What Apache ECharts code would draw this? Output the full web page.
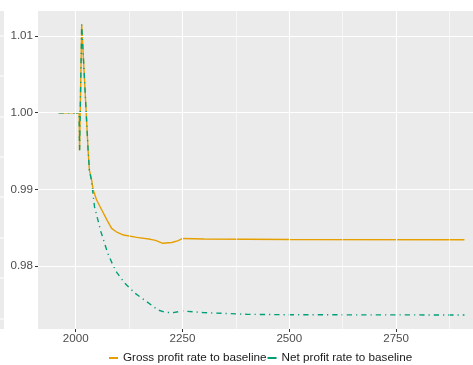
<!DOCTYPE html>
<html>
<head>
<meta charset="utf-8">
<script src="https://cdn.jsdelivr.net/npm/echarts@6/dist/echarts.min.js"></script>
<style>
html,body{margin:0;padding:0;background:#fff;}
#chart{width:473px;height:365px;}
</style>
</head>
<body>
<div id="chart"></div>
<script>
// ---- data ----
var grossYears  = [1960, 2008, 2009, 2014, 2029, 2032, 2037, 2041, 2049, 2061, 2073, 2084, 2095, 2112, 2143, 2175, 2187, 2204, 2225, 2240, 2250, 2300, 2500, 2910];
var grossValues = [1.0000, 1.0000, 0.9951, 1.0115, 0.9951, 0.9925, 0.9913, 0.9899, 0.9886, 0.9873, 0.9860, 0.9849, 0.98445, 0.98403, 0.98373, 0.98347, 0.98333, 0.98295, 0.98305, 0.98330, 0.98358, 0.98352, 0.98345, 0.98342];

var netYears  = [1960, 2008, 2009, 2014, 2029, 2032, 2037, 2044, 2059, 2075, 2087, 2096, 2115, 2139, 2166, 2193, 2209, 2228, 2240, 2250, 2300, 2400, 2500, 2910];
var netValues = [1.0000, 1.0000, 0.9951, 1.0115, 0.9951, 0.9925, 0.9911, 0.9877, 0.98446, 0.98164, 0.98012, 0.97915, 0.97773, 0.97642, 0.97533, 0.97424, 0.97394, 0.97389, 0.97402, 0.97411, 0.97390, 0.97368, 0.97362, 0.97359];

var seriesNames = ['Gross profit rate to baseline', 'Net profit rate to baseline'];

var xTicks = [2000, 2250, 2500, 2750];
var xMinor = [2125, 2375, 2625, 2875];
var yTicks = [0.98, 0.99, 1.00, 1.01];
var yMinor = [0.975, 0.985, 0.995, 1.005];

var xRange = [1911.7, 2930];
var yRange = [0.97176, 1.01328];

function pairs(xs, ys){ return xs.map(function(x,i){ return [x, ys[i]]; }); }

var gridLines = [];
xMinor.forEach(function(v){ gridLines.push({xAxis: v, lineStyle:{width:0.6}}); });
yMinor.forEach(function(v){ gridLines.push({yAxis: v, lineStyle:{width:0.6}}); });
xTicks.forEach(function(v){ gridLines.push({xAxis: v, lineStyle:{width:1.1}}); });
yTicks.forEach(function(v){ gridLines.push({yAxis: v, lineStyle:{width:1.1}}); });

// decorative sliver of neighbouring panel at the very left
var sliver = [{type:'rect', shape:{x:0,y:11,width:4,height:318}, style:{fill:'#EBEBEB'}, silent:true}];
[36, 76, 117, 157, 197, 238, 278, 319].forEach(function(y){
  sliver.push({type:'line', shape:{x1:0,y1:y,x2:4,y2:y}, style:{stroke:'#fff', lineWidth:1}, silent:true});
});

var font = 'Liberation Sans, Arial, Helvetica, sans-serif';

var chart = echarts.init(document.getElementById('chart'), null, {renderer:'canvas'});
chart.setOption({
  animation: false,
  backgroundColor: '#fff',
  textStyle: {fontFamily: font},
  graphic: sliver,
  grid: {left:38, right:0, top:11, bottom:36, show:true, backgroundColor:'#EBEBEB', borderWidth:0},
  xAxis: {
    type:'value', min:xRange[0], max:xRange[1],
    axisLine:{show:false},
    splitLine:{show:false},
    axisTick:{show:true, customValues:xTicks, length:3, lineStyle:{color:'#333', width:1}},
    axisLabel:{customValues:xTicks, color:'#4D4D4D', fontSize:11.6, margin:4, fontFamily:font,
      formatter:function(v){ return String(Math.round(v)); }}
  },
  yAxis: {
    type:'value', min:yRange[0], max:yRange[1],
    axisLine:{show:false},
    splitLine:{show:false},
    axisTick:{show:true, customValues:yTicks, length:3, lineStyle:{color:'#333', width:1}},
    axisLabel:{customValues:yTicks, color:'#4D4D4D', fontSize:11.6, margin:5, fontFamily:font,
      formatter:function(v){ return v.toFixed(2); }}
  },
  legend: {
    top: 347, left: 104,
    itemWidth: 9, itemHeight: 2, itemGap: 1,
    icon: 'rect',
    textStyle: {color:'#1A1A1A', fontSize:11.7, fontFamily:font},
    data: seriesNames
  },
  series: [
    {
      type:'line', silent:true, data:[], z:1,
      markLine:{silent:true, symbol:'none', label:{show:false}, animation:false,
        lineStyle:{color:'#FFFFFF', type:'solid'}, data:gridLines}
    },
    {
      name: seriesNames[0], type:'line', data: pairs(grossYears, grossValues),
      showSymbol:false, symbol:'none', z:3,
      itemStyle:{color:'#E69F00'},
      lineStyle:{color:'#E69F00', width:1.4, type:'solid'}
    },
    {
      name: seriesNames[1], type:'line', data: pairs(netYears, netValues),
      showSymbol:false, symbol:'none', z:4,
      itemStyle:{color:'#00A077'},
      lineStyle:{color:'#00A077', width:1.4, type:[5.3, 4, 1.2, 4]}
    }
  ]
});
</script>
</body>
</html>
